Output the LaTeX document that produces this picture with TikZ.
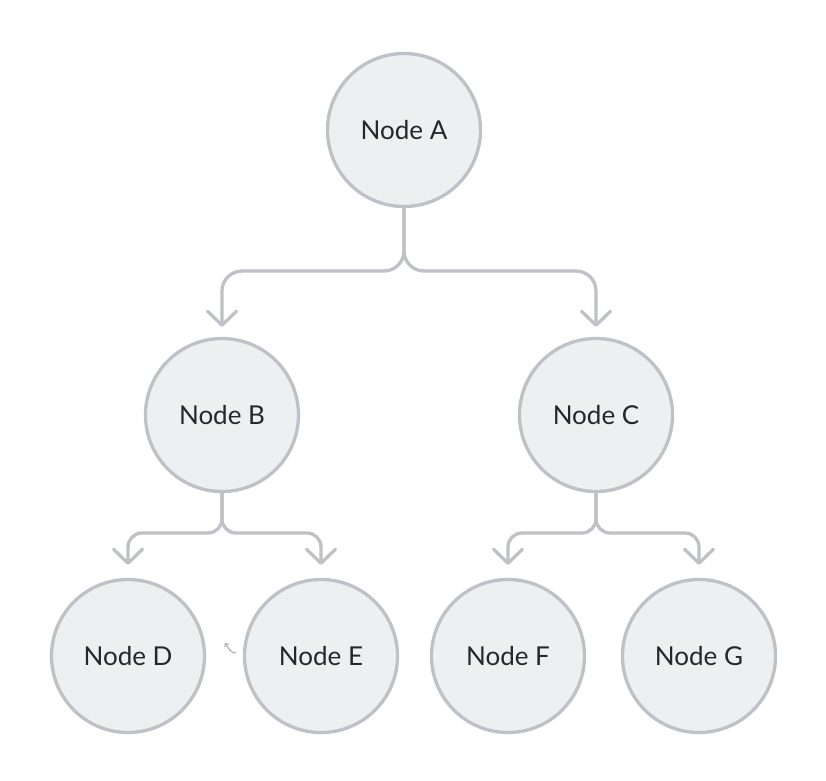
\documentclass[tikz,border=0pt]{standalone}
\usepackage{fontspec}
\setmainfont{Lato}
\usetikzlibrary{arrows.meta}
\definecolor{nodefill}{HTML}{EEEFF1}
\definecolor{nodeline}{HTML}{BFC1C6}
\definecolor{txt}{HTML}{26262E}
\definecolor{faint}{HTML}{A8AAB0}
\begin{document}
\begin{tikzpicture}[x=1pt,y=-1pt,
  circnode/.style={circle,draw=nodeline,fill=nodefill,line width=3.3pt,minimum size=153pt,inner sep=0pt,text=txt,font=\fontsize{26}{30}\selectfont},
  tipbarb/.tip={Straight Barb[length=14pt 0 0,width=29pt 0 0,line cap=round,line join=round]},
  edge/.style={draw=nodeline,line width=3.3pt,line cap=round,-tipbarb}
]
\fill[white] (0,0) rectangle (826,780);
\useasboundingbox (0,0) rectangle (826,780);
\node[circnode] (A) at (404,130) {Node A};
\node[circnode] (B) at (222,415) {Node B};
\node[circnode] (C) at (596,415) {Node C};
\node[circnode] (D) at (128,656) {Node D};
\node[circnode] (E) at (321,656) {Node E};
\node[circnode] (F) at (508,656) {Node F};
\node[circnode] (G) at (699,656) {Node G};
\coordinate (ab) at (404,271);
\coordinate (bj) at (222,533);
\coordinate (cj) at (596,533);
\path[edge,rounded corners=20pt,shorten >=10pt] (A.south) -- (ab) -| (B.north);
\path[edge,rounded corners=20pt,shorten >=10pt] (A.south) -- (ab) -| (C.north);
\path[edge,rounded corners=14pt,shorten >=13pt] (B.south) -- (bj) -| (D.north);
\path[edge,rounded corners=14pt,shorten >=13pt] (B.south) -- (bj) -| (E.north);
\path[edge,rounded corners=14pt,shorten >=13pt] (C.south) -- (cj) -| (F.north);
\path[edge,rounded corners=14pt,shorten >=13pt] (C.south) -- (cj) -| (G.north);
\coordinate (s1) at (236,653);
\coordinate (s2) at (225,643);
\draw[faint,line width=1pt,rounded corners=2pt,-{Straight Barb[length=2.5pt,width=5pt]}] (s1) -- (231,652) -- (s2);
\end{tikzpicture}
\end{document}
